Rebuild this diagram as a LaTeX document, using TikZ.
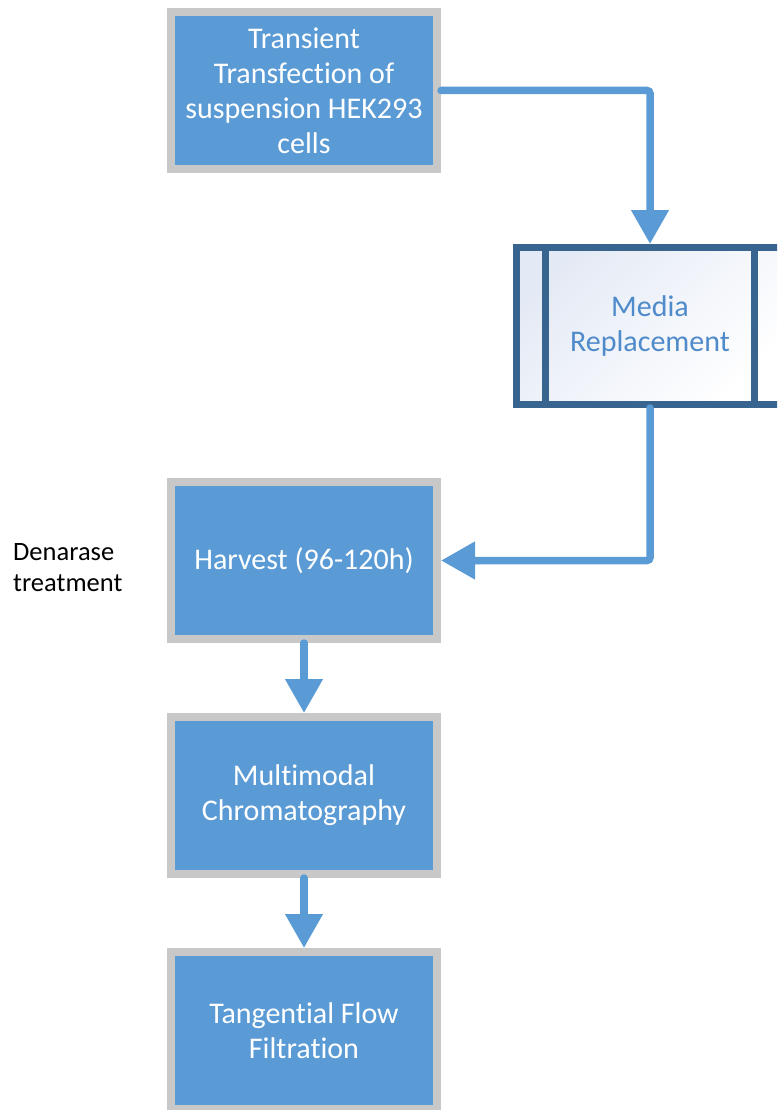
\documentclass[tikz,border=0pt]{standalone}
\usepackage{fontspec}
\setmainfont{Carlito}[Ligatures=NoCommon]
\usetikzlibrary{arrows.meta,shadows}
\definecolor{boxblue}{HTML}{5B9BD5}
\definecolor{boxgray}{HTML}{C8C8C8}
\definecolor{darkframe}{HTML}{386490}
\definecolor{medtext}{HTML}{4F8ACA}
\definecolor{medfill}{HTML}{E4EAF5}
\tikzset{
  stepbox/.style={rectangle, fill=boxblue, draw=boxgray, line width=8pt,
    minimum width=266pt, minimum height=157pt, inner sep=0pt,
    text=white, align=center, font=\fontsize{30}{35}\selectfont,
    drop shadow={shadow xshift=2pt, shadow yshift=-2pt, fill=black, opacity=0.12}},
  procbox/.style={rectangle, draw=darkframe, line width=7pt,
    minimum width=267pt, minimum height=157pt, inner sep=0pt,
    top color=medfill, bottom color=white, shading angle=45,
    text=medtext, align=center, font=\fontsize{30}{35}\selectfont},
  flow/.style={draw=boxblue, line width=7.5pt, line cap=round, rounded corners=3pt,
    -{Triangle[width=36pt,length=34pt]}},
  sidenote/.style={align=left, inner sep=0pt, font=\fontsize{26.5}{31}\selectfont, text=black}
}
\begin{document}
\begin{tikzpicture}[x=1pt,y=-1pt]
\useasboundingbox (0,0) rectangle (777,1110);
\clip (0,0) rectangle (777,1110);
\node[stepbox] (tt) at (304,90.5) {Transient\\Transfection of\\suspension HEK293\\cells};
\node[procbox] (mr) at (650,326) {Media\\Replacement};
\draw[darkframe, line width=7pt] ([xshift=32.5pt]mr.north west) -- ([xshift=32.5pt]mr.south west);
\draw[darkframe, line width=7pt] ([xshift=-32.5pt]mr.north east) -- ([xshift=-32.5pt]mr.south east);
\node[stepbox] (hv) at (304,560.5) {Harvest (96-120h)};
\node[stepbox] (mc) at (304,795.5) {Multimodal\\Chromatography};
\node[stepbox] (tf) at (304,1030.5) {Tangential Flow\\Filtration};
\node[sidenote, anchor=west] (dn) at (13,567.5) {Denarase\\treatment};
\draw[flow] (tt.east) -| (mr.north);
\draw[flow] (mr.south) |- (hv.east);
\draw[flow] (hv.south) -- (mc.north);
\draw[flow] (mc.south) -- (tf.north);
\end{tikzpicture}
\end{document}
